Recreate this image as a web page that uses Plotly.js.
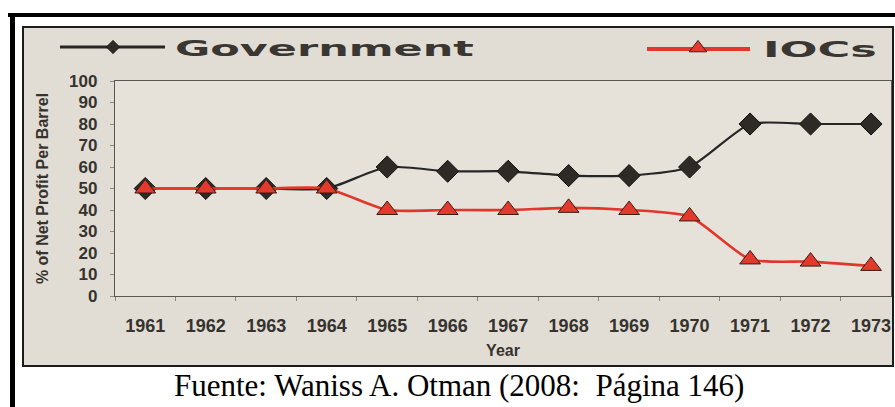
<!DOCTYPE html>
<html>
<head>
<meta charset="utf-8">
<script src="https://cdn.plot.ly/plotly-3.0.1.min.js"></script>
<style>
  html, body { margin: 0; padding: 0; background: #ffffff; }
  #chart { width: 895px; height: 407px; }
</style>
</head>
<body>
<div id="chart"></div>
<script>
// ---- data ----
const years = ["1961","1962","1963","1964","1965","1966","1967","1968","1969","1970","1971","1972","1973"];
const government = [50, 50, 50, 50, 60, 58, 58, 56, 56, 60, 80, 80, 80];
const iocs = [50, 50, 50, 50, 40, 40, 40, 41, 40, 37, 17, 16, 14];
const yTicks = [0, 10, 20, 30, 40, 50, 60, 70, 80, 90, 100];
const seriesNames = ["Government", "IOCs"];
const xTitle = "Year";
const yTitle = "% of Net Profit Per Barrel";
const caption = "Fuente: Waniss A. Otman (2008:\u00a0 Página 146)";

// ---- layout helpers (pixel -> paper) ----
const W = 895, H = 407;
const L = 115, R = 891, T = 81, B = 296;
const px = x => (x - L) / (R - L);
const py = y => (B - y) / (B - T);

// legend sample geometry (page pixels): line span + stroke, marker centre + scale, text span
const legendGeom = {
  "Government": { line: [60, 165, 47, 3.2], marker: [113, 47, 0.65], text: [175, 474, 49] },
  "IOCs":       { line: [647, 750, 49, 4.2], marker: [698, 48, 0.95], text: [763, 877, 50] }
};

const traces = [
  {
    x: years, y: government, name: seriesNames[0], type: "scatter", mode: "lines+markers",
    line: { color: "#262626", width: 2.2, shape: "spline", smoothing: 0.6 },
    marker: { symbol: "diamond", size: 17, color: "#2e2b27", line: { color: "#111", width: 1 } },
    legend: "legend", showlegend: true, hoverinfo: "skip"
  },
  {
    x: years, y: iocs, name: seriesNames[1], type: "scatter", mode: "lines+markers",
    line: { color: "#e0362b", width: 2.6, shape: "spline", smoothing: 0.6 },
    marker: { symbol: "triangle-up", size: 18, color: "#e23a2d", line: { color: "#3a1a12", width: 1 } },
    legend: "legend2", showlegend: true, hoverinfo: "skip"
  }
];

const legendFont = { family: "DejaVu Sans", size: 21, color: "#3a3733", weight: "bold" };
const layout = {
  width: W, height: H,
  margin: { l: L, r: W - R, t: T, b: H - B, pad: 0 },
  paper_bgcolor: "#ffffff",
  plot_bgcolor: "#e6e2da",
  showlegend: true,
  legend: { x: px(88), xanchor: "left", y: py(48), yanchor: "middle",
            bgcolor: "rgba(0,0,0,0)", borderwidth: 0, font: legendFont },
  legend2: { x: px(672), xanchor: "left", y: py(48), yanchor: "middle",
             bgcolor: "rgba(0,0,0,0)", borderwidth: 0, font: legendFont },
  xaxis: {
    type: "category", range: [-0.5, 12.33], fixedrange: true,
    showline: true, mirror: true, linecolor: "#5a5752", linewidth: 1.2,
    showgrid: false, zeroline: false,
    ticks: "outside", tickson: "boundaries", ticklen: 4, tickcolor: "#8a8680",
    ticklabelstandoff: 13,
    tickfont: { family: "Liberation Sans", size: 18, color: "#36332f", weight: "bold" },
    title: { text: xTitle, standoff: 10, font: { family: "Liberation Sans", size: 16, color: "#36332f", weight: "bold" } }
  },
  yaxis: {
    range: [0, 100], fixedrange: true,
    tickvals: yTicks, ticktext: yTicks.map(String),
    showline: true, mirror: true, linecolor: "#5a5752", linewidth: 1.2,
    showgrid: false, zeroline: false,
    ticks: "outside", ticklen: 4, tickcolor: "#8a8680",
    ticklabelstandoff: 9,
    tickfont: { family: "Liberation Sans", size: 17, color: "#36332f", weight: "bold" },
    title: { text: yTitle, standoff: 16, font: { family: "Liberation Sans", size: 16, color: "#36332f", weight: "bold" } }
  },
  shapes: [
    { type: "line", xref: "paper", yref: "paper", x0: px(8), x1: px(895), y0: py(15), y1: py(15),
      line: { color: "#000", width: 4 }, layer: "below" },
    { type: "line", xref: "paper", yref: "paper", x0: px(12.5), x1: px(12.5), y0: py(13), y1: py(407),
      line: { color: "#000", width: 5 }, layer: "below" },
    { type: "rect", xref: "paper", yref: "paper", x0: px(23), x1: px(893), y0: py(366), y1: py(27),
      fillcolor: "#e2ddd4", line: { color: "#1c1c1c", width: 2 }, layer: "below" },
    { type: "rect", xref: "paper", yref: "paper", x0: 0, x1: 1, y0: 0, y1: 1,
      fillcolor: "#e6e2da", line: { width: 0 }, layer: "below" }
  ],
  annotations: [
    { text: caption, xref: "paper", yref: "paper", x: px(459), y: py(385), xanchor: "center", yanchor: "middle",
      showarrow: false, font: { family: "Liberation Serif", size: 31, color: "#000" } }
  ]
};

// Stretch the legend samples to match the wide legend of the original figure
function restyleLegend(gd) {
  gd.querySelectorAll(".scrollbox").forEach(el => el.removeAttribute("clip-path"));
  gd.querySelectorAll("g.traces").forEach(item => {
    const txt = item.querySelector("text");
    if (!txt) return;
    const g = legendGeom[txt.textContent.trim()];
    if (!g) return;
    const m = item.getScreenCTM();
    const ox = m.e, oy = m.f;
    item.querySelectorAll(".legendlines path").forEach(p => {
      const s = (g.line[1] - g.line[0]) / 30;
      p.setAttribute("transform", `translate(${g.line[0] - ox - 5 * s},${g.line[2] - oy}) scale(${s},1)`);
      p.style.strokeWidth = g.line[3] + "px";
    });
    item.querySelectorAll(".legendpoints path").forEach(p => {
      p.setAttribute("transform", `translate(${g.marker[0] - ox},${g.marker[1] - oy}) scale(${g.marker[2]})`);
    });
    const bb = txt.getBBox();
    const s = (g.text[1] - g.text[0]) / bb.width;
    const tx = g.text[0] - ox - s * bb.x;
    const ty = g.text[2] - oy - (bb.y + bb.height / 2);
    txt.setAttribute("transform", `translate(${tx},${ty}) scale(${s},1)`);
  });
}

Plotly.newPlot("chart", traces, layout, { displayModeBar: false, staticPlot: true })
  .then(gd => restyleLegend(gd));
</script>
</body>
</html>
